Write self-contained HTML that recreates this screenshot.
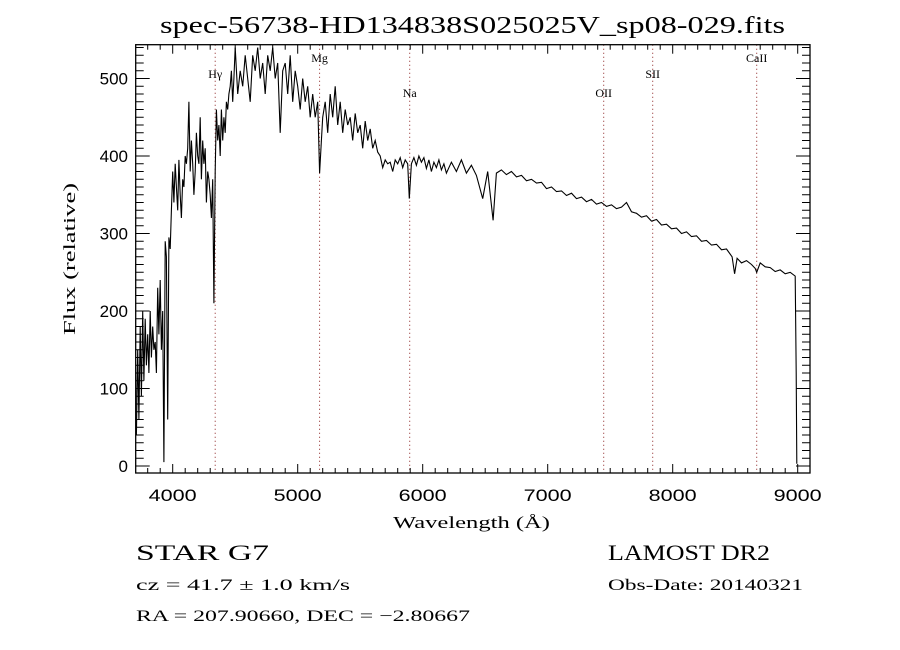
<!DOCTYPE html>
<html><head><meta charset="utf-8"><style>
body{margin:0;background:#fff;}
svg{display:block;}
text{font-family:"Liberation Serif",serif;fill:#000;}
.tk{font-family:"Liberation Sans",sans-serif;font-size:17px;}
</style></head><body>
<svg id="chart" width="900" height="650" viewBox="0 0 900 650" xmlns="http://www.w3.org/2000/svg">
<rect width="900" height="650" fill="#fff"/>
<text x="160" y="33" font-size="24" textLength="625" lengthAdjust="spacingAndGlyphs">spec-56738-HD134838S025025V_sp08-029.fits</text>
<g id="lines"></g>
<g id="axes"></g>
<path id="spec" fill="none" stroke="#000" stroke-width="1.1"/>
<rect x="135.7" y="44.7" width="674.3" height="428.3" fill="none" stroke="#000" stroke-width="1.3"/>
<text x="393" y="528" font-size="17" textLength="157" lengthAdjust="spacingAndGlyphs">Wavelength (Å)</text>
<text transform="translate(75,335) rotate(-90)" font-size="17" textLength="152" lengthAdjust="spacingAndGlyphs">Flux (relative)</text>
<text x="136" y="560" font-size="22" textLength="133" lengthAdjust="spacingAndGlyphs">STAR    G7</text>
<text x="136" y="590" font-size="16" textLength="214" lengthAdjust="spacingAndGlyphs">cz = 41.7 ± 1.0 km/s</text>
<text x="136" y="621" font-size="16" textLength="334" lengthAdjust="spacingAndGlyphs">RA = 207.90660, DEC =  −2.80667</text>
<text x="608" y="560" font-size="22" textLength="162" lengthAdjust="spacingAndGlyphs">LAMOST DR2</text>
<text x="608" y="590" font-size="16" textLength="195" lengthAdjust="spacingAndGlyphs">Obs-Date: 20140321</text>
</svg>
<script>
const waves=[3710,3720,3730,3740,3750,3760,3770,3780,3790,3800,3810,3820,3830,3840,3850,3860,3870,3880,3890,3900,3910,3920,3930,3940,3950,3960,3970,3980,3990,4000,
4010,4020,4030,4040,4050,4060,4070,4080,4090,4100,4110,4120,4130,4140,4150,4160,4170,4180,4190,4200,4210,4220,4230,4240,4250,4260,4270,4280,4290,4300,4310,4320,4330,4340,4350,4360,4370,4380,4390,4400,4410,4420,4430,4440,4450,4460,4470,4480,4490,4500,
4520,4540,4560,4580,4600,4620,4640,4660,4680,4700,4720,4740,4760,4780,4800,4820,4840,4860,4880,4900,4920,4940,4960,4980,5000,5020,5040,5060,5080,5100,5120,5140,5160,5175,5190,5200,
5220,5240,5260,5280,5300,5320,5340,5360,5380,5400,5420,5440,5460,5480,5500,5520,5540,5560,5580,5600,5620,5640,5660,5680,5700,5720,5740,5760,5780,5800,5820,5840,5860,5880,5893,5910,5930,5950,5970,5990,6010,6030,6050,6070,6090,6110,6130,6150,6170,6190,
6230,6270,6310,6350,6390,6430,6480,6520,6563,6590,6630,6670,6710,6750,6790,6830,6870,6910,6950,6990,7030,7070,7110,7150,7190,7230,7270,7310,7350,7390,7430,7470,7510,7550,7590,7630,7670,7710,7750,7790,7830,7870,7910,7950,7990,8030,8070,8110,8150,8190,8230,8270,8310,8350,8390,8430,8475,8495,8515,8550,8590,8630,8660,8672,8700,8740,8780,8820,8860,8900,8940,8980,8988,8993];
const flux=[40,150,60,180,90,200,110,190,130,170,120,200,140,180,150,160,120,230,170,240,150,200,5,290,270,60,295,280,330,380,
340,390,360,330,395,350,320,370,360,400,390,410,470,380,420,390,350,380,430,400,390,450,370,420,390,410,340,380,370,350,320,370,210,380,460,420,440,400,460,420,450,430,470,460,480,490,510,470,500,540,
480,510,490,530,500,470,530,510,540,500,520,480,530,510,540,500,520,430,510,520,480,530,470,510,490,460,500,470,490,450,480,450,470,378,420,450,
470,430,480,450,490,440,470,430,460,440,450,420,455,430,440,410,445,420,435,410,420,405,400,385,395,390,392,380,395,390,398,385,395,390,345,390,398,388,400,392,398,384,395,380,392,385,395,382,390,378,
392,380,395,378,388,375,345,380,317,378,382,376,380,373,375,368,370,365,366,358,360,354,355,349,352,345,347,341,344,338,340,335,337,332,334,340,328,326,321,323,316,318,311,312,306,307,300,302,296,297,290,291,285,286,279,280,270,248,268,262,265,260,255,250,262,257,256,251,253,248,250,245,120,3];
const xTicks=[4000,5000,6000,7000,8000,9000];
const yTicks=[0,100,200,300,400,500];
const lineNames=["Hγ","Mg","Na","OII","SII","CaII"];
const lineWaves=[4340,5175,5896,7448,7840,8672];
const lineLabelY=[78,62,97,97,78,62];

const L=135.7,R=810,T=44.7,B=473;
const xs=w=>172.7+(w-4000)*0.125;
const ys=f=>466-f*0.775;
const NS="http://www.w3.org/2000/svg";
let d="";
for(let i=0;i<waves.length;i++){d+=(i?"L":"M")+xs(waves[i]).toFixed(1)+" "+ys(flux[i]).toFixed(1);}
document.getElementById("spec").setAttribute("d",d);

const ax=document.getElementById("axes");
function mk(tag,attrs,txt){const e=document.createElementNS(NS,tag);for(const k in attrs)e.setAttribute(k,attrs[k]);if(txt!==undefined)e.textContent=txt;return e;}
for(let w=3800;w<=9000;w+=100){
  const x=xs(w),maj=w%1000===0,len=maj?9:5;
  const t1=mk("line",{x1:x,x2:x,y1:B,y2:B-len,stroke:"#000"});
  
  
  ax.appendChild(t1);
  const t2=mk("line",{x1:x,x2:x,y1:T,y2:T+len,stroke:"#000"});
  
  
  ax.appendChild(t2);
}
xTicks.forEach(v=>{
  const t=mk("text",{x:xs(v)-24,y:501,class:"tk",textLength:48,lengthAdjust:"spacingAndGlyphs"},String(v));
  
  
  ax.appendChild(t);
});
for(let f=0;f<=540;f+=10){
  const y=ys(f),maj=f%100===0,len=maj?14:8;
  const t1=mk("line",{x1:L,x2:L+len,y1:y,y2:y,stroke:"#000"});
  
  
  ax.appendChild(t1);
  const t2=mk("line",{x1:R,x2:R-len,y1:y,y2:y,stroke:"#000"});
  
  
  ax.appendChild(t2);
}
yTicks.forEach(v=>{
  const s=String(v);
  const t=mk("text",{x:128,y:ys(v)+6,"text-anchor":"end",class:"tk"},s);
  
  
  ax.appendChild(t);
});
const lg=document.getElementById("lines");
lineWaves.forEach((w,i)=>{
  const x=xs(w);
  const l=mk("line",{x1:x,x2:x,y1:T,y2:B,stroke:"#8b2020","stroke-width":1,"stroke-dasharray":"1 3"});
  
  
  lg.appendChild(l);
  const t=mk("text",{x:x,y:lineLabelY[i],"text-anchor":"middle","font-size":12},lineNames[i]);
  
  
  lg.appendChild(t);
});
</script>
</body></html>
